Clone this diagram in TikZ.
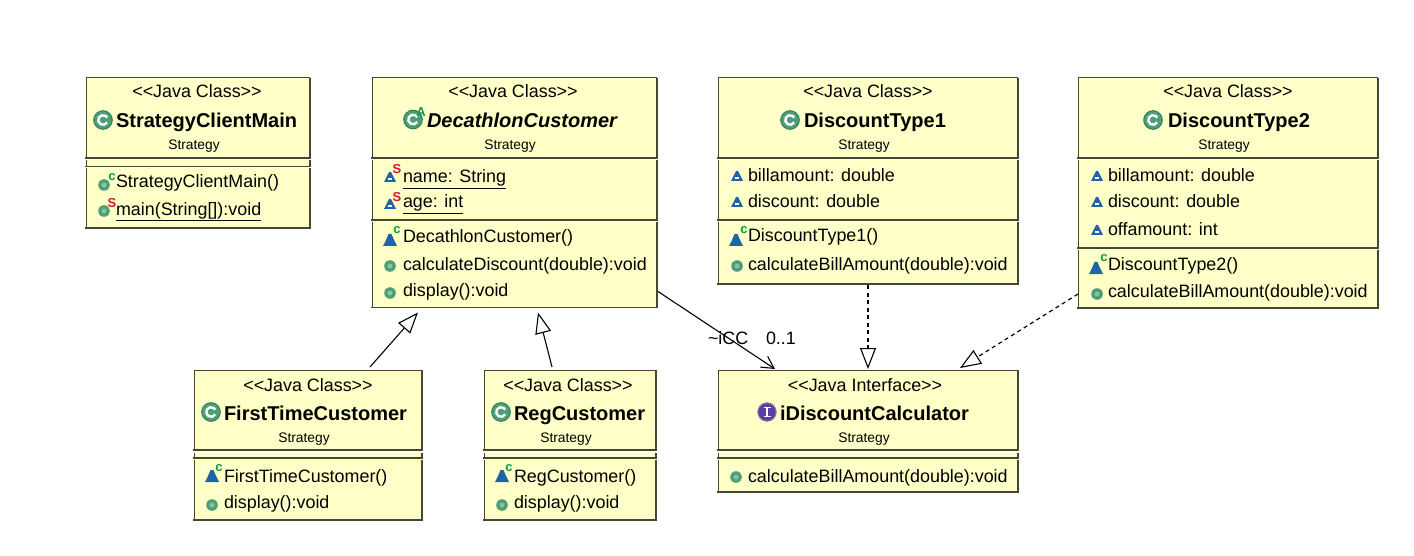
\documentclass[tikz,border=0pt]{standalone}
\usepackage{fontspec}
\setmainfont{Liberation Sans}
\usetikzlibrary{arrows.meta,calc}
\definecolor{boxfill}{HTML}{FFFFC8}
\definecolor{boxedge}{HTML}{47472F}
\definecolor{iconG}{HTML}{4E9E78}
\definecolor{iconL}{HTML}{86C4A2}
\definecolor{iconGd}{HTML}{2F7F58}
\definecolor{iconB}{HTML}{1F63A8}
\definecolor{iconP}{HTML}{5B3F9E}
\definecolor{adoG}{HTML}{0A9A4A}
\definecolor{adoR}{HTML}{D8143C}
\newcounter{tn}
\tikzset{
  comp/.style={draw=none,fill=boxfill,inner sep=0pt,outer sep=0pt,anchor=north west},
  edgethin/.style={draw=boxedge,line width=1pt},
  edgethick/.style={draw=boxedge,line width=1.9pt},
  txt/.style={inner sep=0pt,outer sep=0pt,text=black},
  gen/.style={draw=black,line width=1.1pt,-{Triangle[open,length=21pt,width=16pt,fill=white]}},
  real/.style={draw=black,line width=1.2pt,dash pattern=on 4pt off 3.5pt,-{Triangle[open,length=21pt,width=16pt,fill=white,line width=1.1pt]}},
  assoc/.style={draw=black,line width=1.1pt,-{Straight Barb[length=12pt,width=13pt,line width=1.1pt]}},
}
\newcommand{\mkcomp}[5]{\node[comp,minimum width={(#4-#2)*1pt},minimum height={(#5-#3)*1pt}] (#1) at (#2,#3) {};
  \draw[edgethin] (#1.north west) -- (#1.south west);
  \draw[edgethick] (#1.north east) -- (#1.south east);
  \draw[edgethick,line cap=rect] (#1.south west) -- (#1.south east);}
\newcommand{\mkhead}[5]{\mkcomp{#1}{#2}{#3}{#4}{#5}\draw[edgethin] (#1.north west) -- (#1.north east);}
\newcommand{\stereo}[3]{\stepcounter{tn}\node[txt,anchor=base,font=\fontsize{17.9}{20}\selectfont] (t\arabic{tn}) at (#1,#2) {#3};}
\newcommand{\pkg}[2]{\stepcounter{tn}\node[txt,anchor=base,font=\fontsize{13.8}{15}\selectfont] (t\arabic{tn}) at (#1,#2) {Strategy};}
\newcommand{\titl}[3]{\stepcounter{tn}\node[txt,anchor=base west,font=\fontsize{20}{22}\selectfont\bfseries] (t\arabic{tn}) at (#1,#2) {#3};}
\newcommand{\mem}[3]{\stepcounter{tn}\node[txt,anchor=base west,font=\fontsize{17.9}{20}\selectfont] (t\arabic{tn}) at (#1,#2) {#3};}
\newcommand{\ado}[4]{\stepcounter{tn}\node[txt,text=#3,font=\fontsize{13}{14}\selectfont\bfseries] (t\arabic{tn}) at (#1,#2) {#4};}
\newcommand{\uln}[1]{\underline{#1}}
\newcommand{\cball}[2]{\fill[iconG,draw=iconGd,line width=1pt] (#1,#2) circle (9.3);
  \draw[white,line width=2.4pt] ($(#1,#2)+(4.2,2.4)$) arc[start angle=30,end angle=330,radius=4.8];}
\newcommand{\mball}[2]{\fill[iconG] (#1,#2) circle (5.8);\fill[iconL] (#1,#2) circle (2.4);}
\newcommand{\ctor}[2]{\fill[iconB] ($(#1,#2)+(-7,6)$) -- ($(#1,#2)+(7,6)$) -- ($(#1,#2)+(4,0)$) -- ($(#1,#2)+(1.5,-6)$) -- ($(#1,#2)+(-1.5,-6)$) -- ($(#1,#2)+(-4,0)$) -- cycle;}
\newcommand{\attr}[2]{\fill[iconB] ($(#1,#2)+(-6,5)$) -- ($(#1,#2)+(6,5)$) -- ($(#1,#2)+(1,-5)$) -- ($(#1,#2)+(-1,-5)$) -- cycle;
  \fill[white] ($(#1,#2)+(-2,3.4)$) rectangle ($(#1,#2)+(2,0.6)$);}
\begin{document}
\begin{tikzpicture}[x=1pt,y=-1pt]
\useasboundingbox (0,0) rectangle (1414,556);
\fill[white] (0,0) rectangle (1414,556);
% StrategyClientMain
\mkhead{mainH}{86}{78}{310}{158.2}\mkcomp{mainA}{86}{160.5}{310}{166.5}\mkcomp{mainO}{86}{168}{310}{228}
\stereo{197}{97.4}{<{}<Java Class>{}>}\cball{103}{120}\titl{116}{128}{StrategyClientMain}\pkg{194}{149.5}
\mball{104}{185}\ado{112}{177}{adoG}{c}\mem{116}{187.5}{StrategyClientMain()}
\mball{104}{211}\ado{112}{203}{adoR}{S}\mem{116}{215.5}{\uln{main(String[]):void}}
% DecathlonCustomer
\mkhead{decH}{372}{78}{657}{158.2}\mkcomp{decA}{372}{160.5}{657}{220}\mkcomp{decO}{372}{222.5}{657}{307.5}
\stereo{513}{97.4}{<{}<Java Class>{}>}\cball{413}{119.5}\ado{421}{112}{adoG}{A}
\stepcounter{tn}\node[txt,anchor=base west,font=\fontsize{20}{22}\selectfont\bfseries\itshape] (t\arabic{tn}) at (427,128) {DecathlonCustomer};
\pkg{510}{149.5}
\attr{390}{177}\ado{397}{169}{adoR}{S}\mem{403}{183}{\uln{name: String}}
\attr{390}{204}\ado{397}{197}{adoR}{S}\mem{403}{208}{\uln{age: int}}
\ctor{390}{240}\ado{397}{230}{adoG}{c}\mem{403}{243}{DecathlonCustomer()}
\mball{390}{266}\mem{403}{270}{calculateDiscount(double):void}
\mball{390}{293}\mem{403}{296}{display():void}
% DiscountType1
\mkhead{dtaH}{718}{78}{1018}{158.2}\mkcomp{dtaA}{718}{160.5}{1018}{220}\mkcomp{dtaO}{718}{222.5}{1018}{284}
\stereo{868}{97.4}{<{}<Java Class>{}>}\cball{790}{120}\titl{804}{128}{DiscountType1}\pkg{864}{149.5}
\attr{737}{176}\mem{748}{182}{billamount: double}
\attr{737}{202}\mem{748}{208}{discount: double}
\ctor{736}{240}\ado{744}{230}{adoG}{c}\mem{748}{242}{DiscountType1()}
\mball{737}{266}\mem{748}{270}{calculateBillAmount(double):void}
% DiscountType2
\mkhead{dtbH}{1078}{78}{1378}{158.2}\mkcomp{dtbA}{1078}{160.5}{1378}{248}\mkcomp{dtbO}{1078}{250.5}{1378}{308}
\stereo{1228}{97.4}{<{}<Java Class>{}>}\cball{1153}{120}\titl{1168}{128}{DiscountType2}\pkg{1224}{149.5}
\attr{1097}{176}\mem{1108}{182}{billamount: double}
\attr{1097}{202}\mem{1108}{208}{discount: double}
\attr{1097}{230}\mem{1108}{236}{offamount: int}
\ctor{1096}{268}\ado{1104}{258}{adoG}{c}\mem{1108}{270}{DiscountType2()}
\mball{1097}{294}\mem{1108}{298}{calculateBillAmount(double):void}
% FirstTimeCustomer
\mkhead{ftcH}{194}{370}{422}{450}\mkcomp{ftcA}{194}{452.5}{422}{458}\mkcomp{ftcO}{194}{460}{422}{520}
\stereo{308}{391}{<{}<Java Class>{}>}\cball{211}{412}\titl{224}{420}{FirstTimeCustomer}\pkg{304}{442}
\ctor{212}{476}\ado{219}{468}{adoG}{c}\mem{224}{482}{FirstTimeCustomer()}
\mball{212}{505}\mem{224}{508}{display():void}
% RegCustomer
\mkhead{regH}{484}{370}{656}{450}\mkcomp{regA}{484}{452.5}{656}{458}\mkcomp{regO}{484}{460}{656}{520}
\stereo{568}{391}{<{}<Java Class>{}>}\cball{501}{412}\titl{514}{420}{RegCustomer}\pkg{566}{442}
\ctor{502}{476}\ado{509}{468}{adoG}{c}\mem{514}{482}{RegCustomer()}
\mball{502}{505}\mem{514}{508}{display():void}
% iDiscountCalculator
\mkhead{idcH}{718}{370}{1018}{450}\mkcomp{idcA}{718}{452.5}{1018}{458}\mkcomp{idcO}{718}{460}{1018}{492}
\stereo{865}{391}{<{}<Java Interface>{}>}
\fill[iconP,draw=iconP!70,line width=1pt] (767,412) circle (9.2);
\draw[white,line width=2.4pt] (767,407.5) -- (767,416.5);
\draw[white,line width=1.5pt] (763.5,407.5) -- (770.5,407.5) (763.5,416.5) -- (770.5,416.5);
\titl{780}{420}{iDiscountCalculator}\pkg{864}{442}
\mball{736}{477}\mem{748}{482}{calculateBillAmount(double):void}
% connectors
\draw[gen] ($(ftcH.north west)+(176,-3)$) -- ($(decO.south west)+(46,5)$);
\draw[gen] ($(regH.north west)+(68,-3)$) -- ($(decO.south west)+(166,5)$);
\draw[assoc] ($(decO.north east)+(1,69)$) -- ($(idcH.north west)+(57,-1)$);
\draw[real] ($(dtaO.south west)+(150,1)$) -- ($(idcH.north west)+(150,-1)$);
\draw[real] ($(dtbO.south west)+(0,-14)$) -- ($(idcH.north west)+(242,-2)$);
\node[txt,anchor=base west,font=\fontsize{17.9}{20}\selectfont] (lblA) at (708,344) {\textasciitilde iCC};
\node[txt,anchor=base west,font=\fontsize{17.9}{20}\selectfont] (lblB) at (766,344) {0..1};
\end{tikzpicture}
\end{document}
